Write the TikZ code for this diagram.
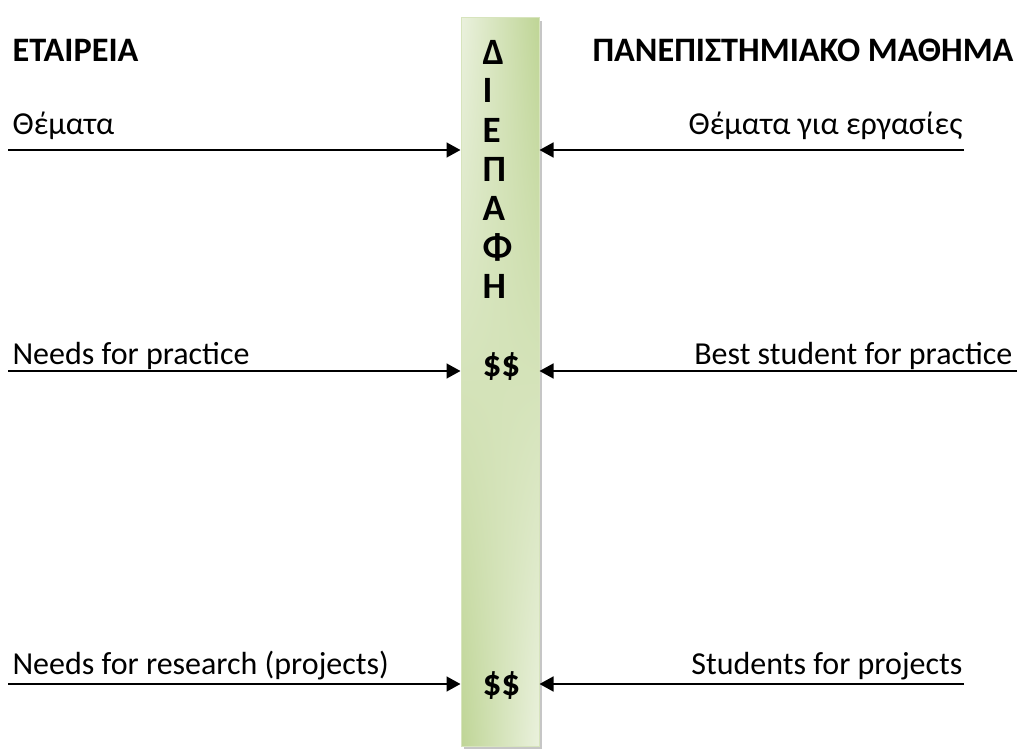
\documentclass[tikz,border=0pt]{standalone}
\usepackage{fontspec}
\setmainfont{Carlito}
\usetikzlibrary{arrows.meta,positioning,shadows}

\definecolor{barline}{HTML}{D7E4BD}

% light green top left and bottom right, darker green in the other corners
\pgfdeclarefunctionalshading{barshade}{\pgfpoint{0bp}{0bp}}{\pgfpoint{100bp}{100bp}}{}{
  25 sub 50 div exch 25 sub 50 div
  2 copy mul 2 mul 3 1 roll add sub 1 add
  dup dup -0.17 mul 0.918 add 3 1 roll
  -0.11 mul 0.945 add exch -0.28 mul 0.867 add
}

\tikzset{
  head/.style={font=\fontsize{12}{14}\selectfont\bfseries, anchor=base west, inner sep=0pt},
  ltext/.style={anchor=base west, inner sep=0pt},
  rtext/.style={anchor=base east, inner sep=0pt},
  letter/.style={font=\fontsize{13}{15}\selectfont\bfseries, anchor=base west, inner sep=0pt},
  flow/.style={-{Triangle[length=4.9pt,width=5.2pt]}, line width=0.7pt},
  interface/.style={rectangle, draw=barline, line width=0.35pt,
    minimum width=27.3pt, minimum height=255.15pt, inner sep=0pt,
    shading=barshade,
    drop shadow={shadow xshift=1.05pt, shadow yshift=-1.05pt, fill=gray!45, opacity=1}}
}

\begin{document}
\begin{tikzpicture}[x=0.35pt, y=-0.35pt, font=\fontsize{11.2}{13}\selectfont]

\useasboundingbox (0,0) rectangle (1024,753);

% the interface bar
\node[interface] (bar) at (500,382) {};

% headings
\node[head] (company) at (12,61) {ΕΤΑΙΡΕΙΑ};
\node[head] (course) at (592,61) {ΠΑΝΕΠΙΣΤΗΜΙΑΚΟ ΜΑΘΗΜΑ};

% letters in the bar
\node[letter] (ch1) at (482,64) {Δ};
\node[letter] (ch2) at (482,103) {Ι};
\node[letter] (ch3) at (482,142) {Ε};
\node[letter] (ch4) at (482,181) {Π};
\node[letter] (ch5) at (482,220) {Α};
\node[letter] (ch6) at (482,259) {Φ};
\node[letter] (ch7) at (482,298) {Η};
\node[letter] (money1) at (482,376) {\$\$};
\node[letter] (money2) at (482,695) {\$\$};

% labels
\node[ltext] (topics) at (12,134) {Θέματα};
\node[ltext] (practice) at (12,364) {Needs for practice};
\node[ltext] (research) at (12,674) {Needs for research (projects)};
\node[rtext] (projtopics) at (963,134) {Θέματα για εργασίες};
\node[rtext] (beststudent) at (1013,364) {Best student for practice};
\node[rtext] (students) at (963,674) {Students for projects};

% free ends of the arrows
\coordinate (l1) at (8,150);
\coordinate (l2) at (8,371);
\coordinate (l3) at (8,684);
\coordinate (r1) at (964,150);
\coordinate (r2) at (1017,371);
\coordinate (r3) at (964,684);

\draw[flow] (l1) -- (l1 -| bar.west);
\draw[flow] (l2) -- (l2 -| bar.west);
\draw[flow] (l3) -- (l3 -| bar.west);
\draw[flow] (r1) -- (r1 -| bar.east);
\draw[flow] (r2) -- (r2 -| bar.east);
\draw[flow] (r3) -- (r3 -| bar.east);

\end{tikzpicture}
\end{document}
